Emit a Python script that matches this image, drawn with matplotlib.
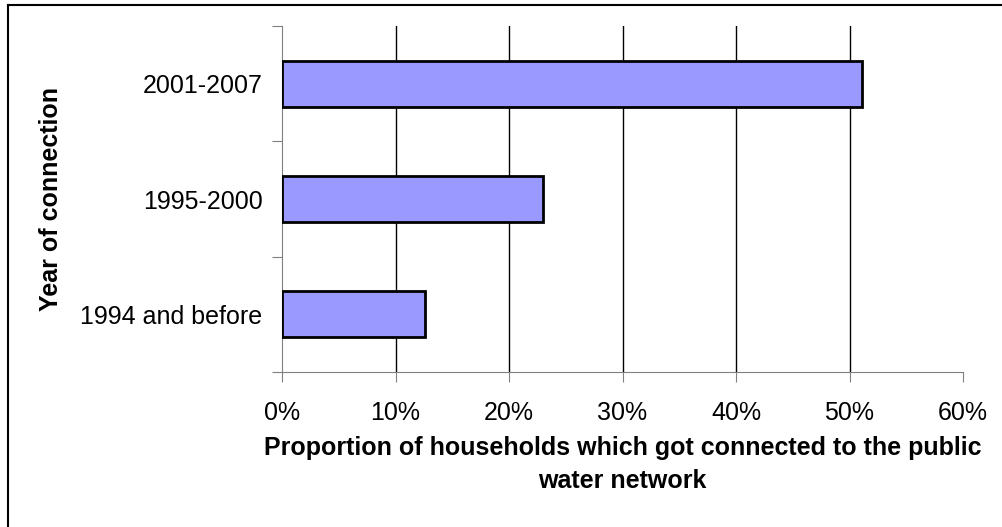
import matplotlib.pyplot as plt
import numpy as np
from matplotlib.lines import Line2D

plt.rcParams['font.family'] = ['Liberation Sans', 'DejaVu Sans']

# data
periods = ["1994 and before", "1995-2000", "2001-2007"]
shares = [12.6, 23.0, 51.1]
xticks = [0, 10, 20, 30, 40, 50, 60]

fig = plt.figure(figsize=(10.02, 5.27), dpi=100)
ax = fig.add_axes([282/1002, 1 - 372/527, (963-282)/1002, (372-26)/527])

pos = np.arange(len(periods))
ax.barh(pos, shares, height=0.4, color='#9999FF', edgecolor='black',
        linewidth=2, zorder=3)

ax.set_xlim(0, 60)
ax.set_ylim(-0.5, len(periods) - 0.5)
ax.set_xticks(xticks)
ax.set_xticklabels([f"{v}%" for v in xticks], fontsize=18)
for v in xticks[1:-1]:
    ax.axvline(v, color='black', linewidth=1, zorder=1)

# category boundaries as ticks, labels at centres
ax.set_yticks(np.arange(-0.5, len(periods)))
ax.set_yticklabels([])
ax.set_yticks(pos, minor=True)
ax.set_yticklabels(periods, minor=True, fontsize=18)
ax.tick_params(axis='y', which='minor', length=0, pad=14)
ax.tick_params(axis='y', which='major', length=7, color='#808080')
ax.tick_params(axis='x', length=7, color='#808080', pad=14)

for s in ['top', 'right']:
    ax.spines[s].set_visible(False)
for s in ['left', 'bottom']:
    ax.spines[s].set_color('#808080')

ax.set_xlabel("Proportion of households which got connected to the public\nwater network",
              fontsize=18, fontweight='bold', labelpad=8, linespacing=1.45)
ax.set_ylabel("Year of connection", fontsize=18, fontweight='bold')
ax.yaxis.set_label_coords(-0.321, 0.5)

# chart frame (cropped on right and bottom)
fig.add_artist(Line2D([8/1002, 8/1002], [0, 1 - 5/527], color='black', linewidth=1.5))
fig.add_artist(Line2D([8/1002, 1], [1 - 5/527, 1 - 5/527], color='black', linewidth=1.5))

fig.savefig("out.png", dpi=100)
